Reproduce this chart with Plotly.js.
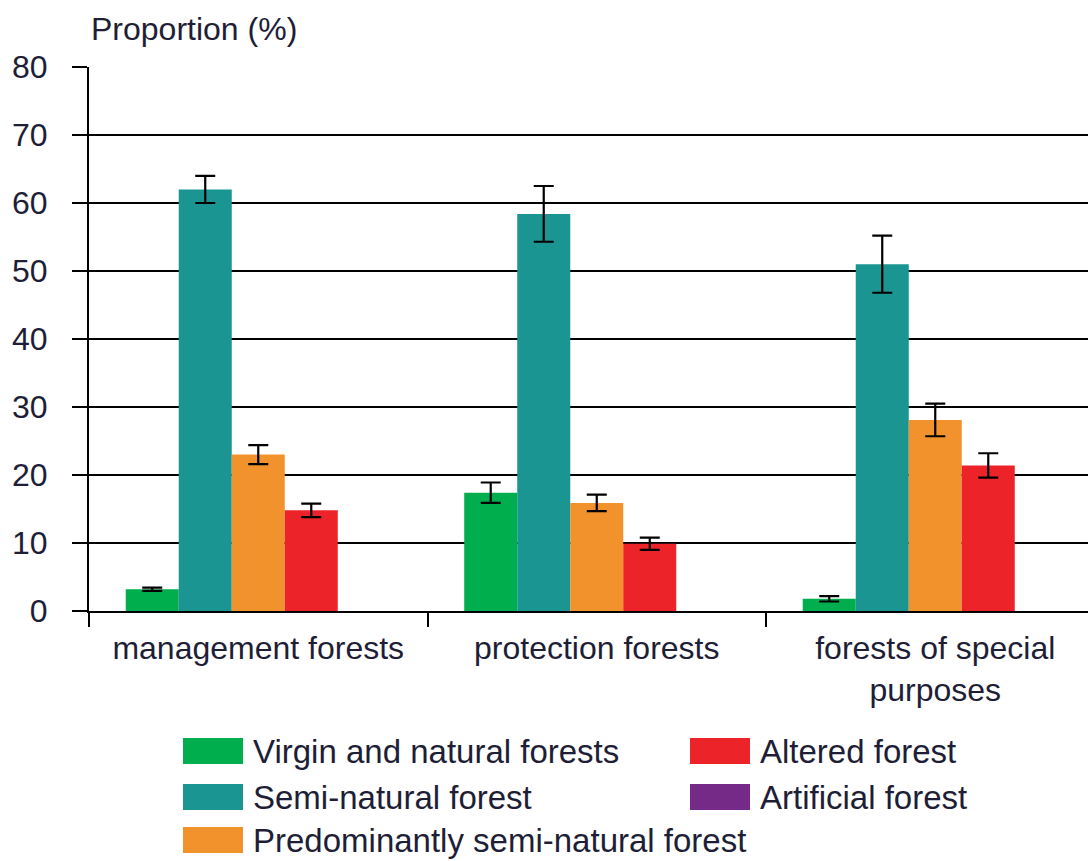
<!DOCTYPE html>
<html>
<head>
<meta charset="utf-8">
<script src="https://cdn.plot.ly/plotly-3.0.1.min.js"></script>
<style>
  html, body { margin: 0; padding: 0; background: #fff; }
  #chart { width: 1088px; height: 861px; }
</style>
</head>
<body>
<div id="chart"></div>
<script>
// ---- data ----
const categories = ["management forests", "protection forests", "forests of special<br>purposes"];
const seriesNames = ["Virgin and natural forests", "Semi-natural forest", "Predominantly semi-natural forest", "Altered forest", "Artificial forest"];
const virginValues = [3.2, 17.4, 1.8];
const virginErrors = [0.25, 1.5, 0.4];
const semiNaturalValues = [62.0, 58.4, 51.0];
const semiNaturalErrors = [2.0, 4.1, 4.2];
const predominantlyValues = [23.0, 15.9, 28.1];
const predominantlyErrors = [1.4, 1.2, 2.4];
const alteredValues = [14.8, 9.9, 21.4];
const alteredErrors = [1.0, 0.9, 1.8];
const artificialValues = [0, 0, 0];
const yTickValues = [0, 10, 20, 30, 40, 50, 60, 70, 80];

// ---- styles ----
const colors = ["#00AE4D", "#1A9591", "#F2922D", "#EC2329", "#762A87"];
const FONT = "Liberation Sans, Arial, sans-serif";
const TXT = "#1e1e36";
const FS = 32;

const values = [virginValues, semiNaturalValues, predominantlyValues, alteredValues, artificialValues];
const errors = [virginErrors, semiNaturalErrors, predominantlyErrors, alteredErrors, null];

const traces = values.map((v, i) => {
  const t = {
    type: "bar",
    name: seriesNames[i],
    x: categories,
    y: v,
    marker: { color: colors[i], line: { width: 0 } },
    showlegend: false,
    hoverinfo: "x+y+name"
  };
  if (errors[i]) {
    t.error_y = { type: "data", array: errors[i], visible: true, color: "#000", thickness: 2.2, width: 10 };
  }
  return t;
});

// ---- manual legend (large swatches as in the original) ----
const L = 89, R = 1088, T = 67, B = 611;
const px2x = p => (p - L) / (R - L);
const px2y = p => (B - p) / (B - T);
const legendSlots = [
  { col: 0, row: 0 }, { col: 0, row: 1 }, { col: 0, row: 2 },
  { col: 1, row: 0 }, { col: 1, row: 1 }
];
const colSwatchX = [183, 690];
const rowCenters = [751, 797, 840];
const shapes = [];
const annotations = [];
seriesNames.forEach((n, i) => {
  const s = legendSlots[i];
  const x0 = colSwatchX[s.col], yc = rowCenters[s.row];
  shapes.push({
    type: "rect", xref: "paper", yref: "paper",
    x0: px2x(x0), x1: px2x(x0 + 60), y0: px2y(yc + 13), y1: px2y(yc - 13),
    fillcolor: colors[i], line: { width: 0 }
  });
  annotations.push({
    xref: "paper", yref: "paper", x: px2x(x0 + 68), y: px2y(yc),
    xanchor: "left", yanchor: "middle", showarrow: false,
    text: n, font: { family: FONT, size: 33, color: TXT }
  });
});
annotations.push({
  xref: "paper", yref: "paper", x: 0, y: px2y(29),
  xanchor: "left", yanchor: "middle", showarrow: false,
  text: "Proportion (%)", font: { family: FONT, size: FS, color: TXT }
});

const layout = {
  width: 1088, height: 861,
  margin: { l: L, r: 1088 - R, t: T, b: 861 - B, pad: 0 },
  paper_bgcolor: "#fff", plot_bgcolor: "#fff",
  barmode: "group", bargap: 0.217, bargroupgap: 0,
  showlegend: false,
  font: { family: FONT, size: FS, color: TXT },
  xaxis: {
    type: "category",
    range: [-0.5, -0.5 + (R - L) / 338.5],
    showline: true, linecolor: "#000", linewidth: 2,
    ticks: "outside", tickson: "boundaries", ticklen: 14, tickwidth: 2, tickcolor: "#000",
    tickangle: 0,
    ticklabelstandoff: 8,
    showgrid: false, zeroline: false,
    tickfont: { family: FONT, size: FS, color: TXT }
  },
  yaxis: {
    range: [0, 80],
    tickvals: yTickValues,
    showline: true, linecolor: "#000", linewidth: 2,
    ticks: "outside", ticklen: 15, tickwidth: 2, tickcolor: "#000",
    ticklabelstandoff: 18,
    showgrid: true, gridcolor: "#000", gridwidth: 2,
    zeroline: false,
    tickfont: { family: FONT, size: 32, color: TXT }
  },
  shapes: shapes,
  annotations: annotations
};

Plotly.newPlot("chart", traces, layout, { displayModeBar: false, staticPlot: true });
</script>
</body>
</html>
